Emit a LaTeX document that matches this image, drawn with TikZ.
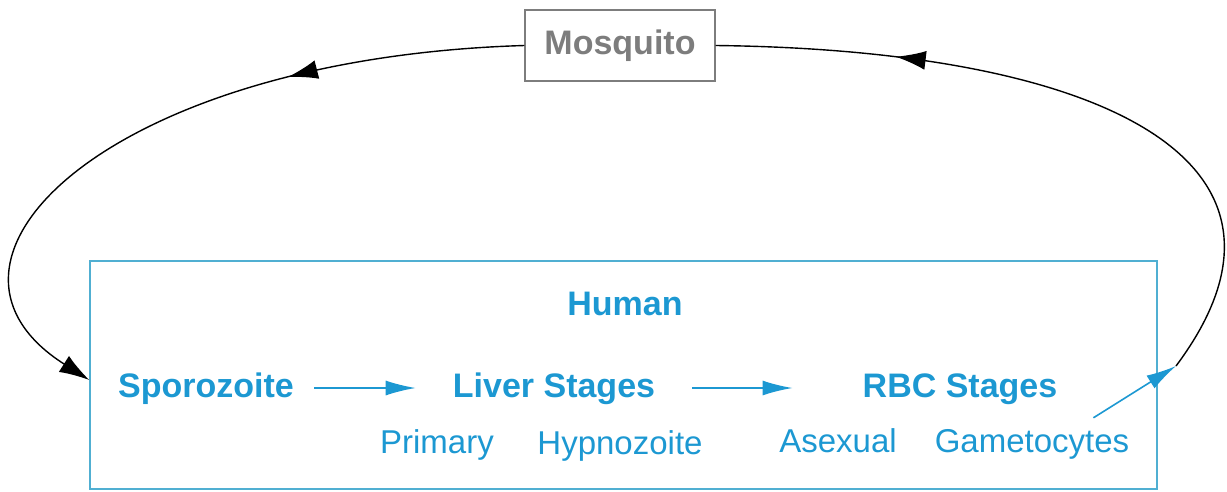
\documentclass[tikz,border=0pt]{standalone}
\usepackage{fontspec}
\setmainfont{Liberation Sans}
\usetikzlibrary{arrows.meta,decorations.markings}
\definecolor{hblue}{RGB}{28,152,210}
\definecolor{hbox}{RGB}{80,175,210}
\definecolor{mgray}{RGB}{125,125,125}
\begin{document}
\begin{tikzpicture}[x=1pt,y=-1pt,
  big/.style={font=\fontsize{34}{40}\selectfont\bfseries, text=hblue, inner sep=0pt, text height=25pt, text depth=7pt},
  small/.style={font=\fontsize{33}{40}\selectfont, text=hblue, inner sep=0pt, text height=24pt, text depth=7pt},
  barrow/.style={draw=hblue, line width=1.6pt, -{Latex[length=30pt,width=15pt]}},
  karrow/.style={draw=black, line width=1.4pt},
]
\useasboundingbox (0,0) rectangle (1227,491);
% boxes
\node[draw=hbox, line width=1.4pt, minimum width=1067pt, minimum height=228pt, inner sep=0pt] (hbox) at (623.5,375) {};
\node[draw=mgray, line width=1.4pt, minimum width=190pt, minimum height=71pt, inner sep=0pt,
      text=mgray, font=\fontsize{34}{40}\selectfont\bfseries, text height=25pt, text depth=7pt] (mosq) at (620,45.5) {Mosquito};
% texts
\node[big, anchor=base] (human) at (625,315) {Human};
\node[big, anchor=base] (spor) at (206,397) {Sporozoite};
\node[big, anchor=base] (liver) at (554,397) {Liver Stages};
\node[big, anchor=base] (rbc) at (960,397) {RBC Stages};
\node[small, anchor=base] (prim) at (437,453) {Primary};
\node[small, anchor=base] (hyp) at (620,454) {Hypnozoite};
\node[small, anchor=base] (asex) at (838,452) {Asexual};
\node[small, anchor=base] (gam) at (1032,452) {Gametocytes};
% blue arrows
\draw[barrow] ([xshift=20pt]spor.east) -- ([xshift=-37pt]liver.west);
\draw[barrow] ([xshift=37pt]liver.east) -- ([xshift=-70pt]rbc.west);
\coordinate (gtip) at (1176,366);
\draw[barrow] ([xshift=-36pt,yshift=10pt]gam.north east) -- (gtip);
% black cycle
\draw[karrow, -{Latex[length=30pt,width=19pt]},
  decoration={markings, mark=at position 0.33 with {\arrow{Latex[length=30pt,width=19pt]}}},
  postaction={decorate}]
  (mosq.west) .. controls (110,58) and (-100,260) .. ([yshift=-5pt]hbox.west);
\draw[karrow,
  decoration={markings, mark=at position 0.75 with {\arrow{Latex[length=30pt,width=19pt]}}},
  postaction={decorate}]
  (gtip) .. controls (1330,160) and (1100,50) .. (mosq.east);
\end{tikzpicture}
\end{document}
